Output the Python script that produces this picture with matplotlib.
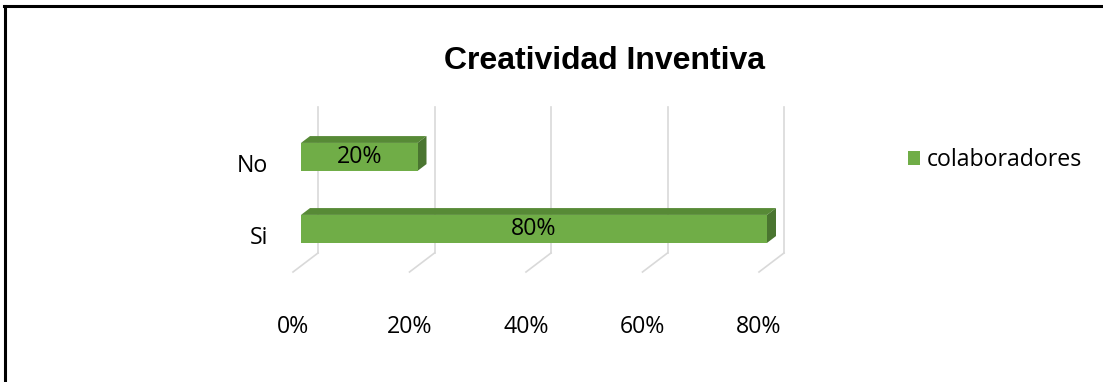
import matplotlib
matplotlib.use("Agg")
import matplotlib.pyplot as plt
from matplotlib.patches import Polygon, Patch
from matplotlib.lines import Line2D

# ---- data ----
categories = ["Si", "No"]
values = [0.80, 0.20]
value_labels = ["80%", "20%"]
x_ticks = [0.0, 0.2, 0.4, 0.6, 0.8]
x_tick_labels = ["0%", "20%", "40%", "60%", "80%"]
series_name = "colaboradores"
title = "Creatividad Inventiva"

# ---- style ----
W, H = 1103, 382
DPI = 100
FRONT = "#70AD47"
TOP = "#578A36"
SIDE = "#4A7530"
GRID = "#D9D9D9"
FONT = "Open Sans"
FS = 16.7

fig = plt.figure(figsize=(W / DPI, H / DPI), dpi=DPI)
fig.patch.set_facecolor("white")

# front plane axes placement (pixels)
x0_px, x1_px = 293, 759
yb_px, yt_px = 272, 126
ax = fig.add_axes([x0_px / W, 1 - yb_px / H, (x1_px - x0_px) / W, (yb_px - yt_px) / H])
ymin, ymax = -0.514, 1.514
ax.set_xlim(0, 0.8)
ax.set_ylim(ymin, ymax)
for s in ax.spines.values():
    s.set_visible(False)
ax.patch.set_visible(False)

px_per_x = (x1_px - x0_px) / 0.8
px_per_y = (yb_px - yt_px) / (ymax - ymin)
# depth vector (pixels) -> data units
DX = 25 / px_per_x
DY = 19 / px_per_y
d_front, d_back = 0.32, 0.68
bar_h = 28 / px_per_y

# gridlines: back wall verticals and floor diagonals
for t in x_ticks:
    ax.add_line(Line2D([t + DX, t + DX], [ymin + DY, ymax + DY], color=GRID, lw=1.2, clip_on=False, zorder=1))
    ax.add_line(Line2D([t, t + DX], [ymin, ymin + DY], color=GRID, lw=1.2, clip_on=False, zorder=1))

# bars
for i, (v, lab) in enumerate(zip(values, value_labels)):
    fx, fy = d_front * DX, d_front * DY
    bx, by = d_back * DX, d_back * DY
    lo, hi = i - bar_h / 2, i + bar_h / 2
    front = [(fx, lo + fy), (v + fx, lo + fy), (v + fx, hi + fy), (fx, hi + fy)]
    top = [(fx, hi + fy), (v + fx, hi + fy), (v + bx, hi + by), (bx, hi + by)]
    side = [(v + fx, lo + fy), (v + bx, lo + by), (v + bx, hi + by), (v + fx, hi + fy)]
    ax.add_patch(Polygon(top, closed=True, facecolor=TOP, edgecolor="none", zorder=3, clip_on=False))
    ax.add_patch(Polygon(side, closed=True, facecolor=SIDE, edgecolor="none", zorder=3, clip_on=False))
    ax.add_patch(Polygon(front, closed=True, facecolor=FRONT, edgecolor="none", zorder=4, clip_on=False))
    ax.text(v / 2 + fx, i + fy, lab, ha="center", va="center", fontsize=FS, family=FONT, color="black", zorder=5)

# axes ticks
ax.set_xticks(x_ticks)
ax.set_xticklabels(x_tick_labels, family=FONT, fontsize=FS)
ax.set_yticks(range(len(categories)))
ax.set_yticklabels(categories, family=FONT, fontsize=FS)
ax.tick_params(axis="x", length=0, pad=31)
ax.tick_params(axis="y", length=0, pad=18)

# title
fig.text(605 / W, 1 - 61 / H, title, ha="center", va="center", fontsize=23,
         fontweight="bold", family="Liberation Sans")

# legend
leg = fig.legend(handles=[Patch(facecolor=FRONT, edgecolor="none", label=series_name)],
                 loc="center left", bbox_to_anchor=(908 / W, 1 - 160 / H), frameon=False,
                 prop={"family": FONT, "size": FS}, handlelength=0.52, handleheight=0.52,
                 handletextpad=0.3, borderpad=0, borderaxespad=0)

# outer frame (left and top edges)
fig.add_artist(Line2D([4.5 / W, 4.5 / W], [0, 1 - 6 / H], color="black", lw=2.2, transform=fig.transFigure))
fig.add_artist(Line2D([3.5 / W, 1], [1 - 6 / H, 1 - 6 / H], color="black", lw=2.2, transform=fig.transFigure))

fig.savefig("out.png", dpi=DPI, facecolor="white")
